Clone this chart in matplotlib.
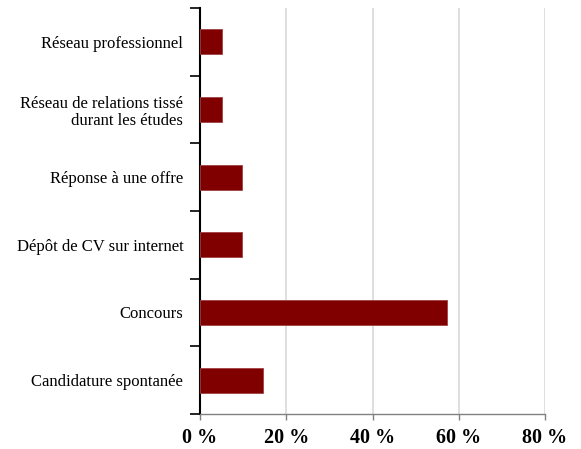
import numpy as np
import matplotlib.pyplot as plt
from matplotlib.ticker import FixedLocator

# categories from bottom to top
categories = [
    "Candidature spontanée",
    "Concours",
    "Dépôt de CV sur internet",
    "Réponse à une offre",
    "Réseau de relations tissé\ndurant les études",
    "Réseau professionnel",
]
values = [14.5, 57.3, 9.7, 9.7, 5.0, 5.0]
x_ticks = [0, 20, 40, 60, 80]
x_labels = ["0 %", "20 %", "40 %", "60 %", "80 %"]

plt.rcParams['font.family'] = ['Liberation Serif', 'DejaVu Serif']

fig = plt.figure(figsize=(5.81, 4.49), dpi=100)
ax = fig.add_axes([200 / 581, 1 - 414 / 449, 345 / 581, 406 / 449])

y = np.arange(len(categories))
ax.barh(y, values, height=0.37, color='#800000', edgecolor='#a04040',
        linewidth=0.6, zorder=3)

ax.set_xlim(0, 80)
ax.set_ylim(-0.5, len(categories) - 0.5)

ax.set_xticks(x_ticks)
ax.set_xticklabels(x_labels, fontsize=14.5, fontweight='bold')
ax.grid(axis='x', color='#d9d9d9', linewidth=1.2, zorder=0)

ax.set_yticks(y)
ax.set_yticklabels(categories, fontsize=12, ha='right', linespacing=1.1)
ax.yaxis.set_minor_locator(FixedLocator(np.arange(-0.5, len(categories), 1)))
ax.tick_params(axis='y', which='major', length=0, pad=12)
ax.tick_params(axis='y', which='minor', length=7, width=1.2, color='black')
ax.tick_params(axis='x', length=4, width=1, color='#808080', pad=6)

for side in ['top', 'right']:
    ax.spines[side].set_visible(False)
ax.spines['left'].set_linewidth(1.5)
ax.spines['left'].set_color('black')
ax.spines['bottom'].set_color('#808080')
ax.spines['bottom'].set_linewidth(1)

fig.savefig('out.png', dpi=100)
